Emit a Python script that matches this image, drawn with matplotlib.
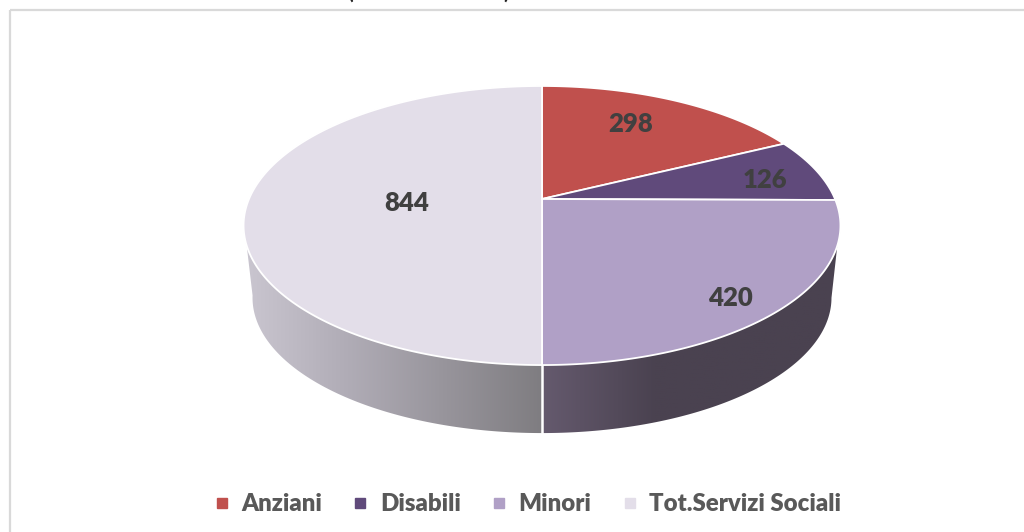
import numpy as np
import matplotlib
matplotlib.use("Agg")
import matplotlib.pyplot as plt
from matplotlib.colors import to_rgb
from matplotlib.lines import Line2D
from matplotlib.patches import Polygon

categories = ["Anziani", "Disabili", "Minori", "Tot.Servizi Sociali"]
values = [298, 126, 420, 844]
colors = ["#c0504d", "#604a7b", "#b0a0c6", "#e3dee9"]
label_pos = [(631, 124), (765, 180), (730, 298), (407, 203)]

plt.rcParams["font.family"] = ["Lato", "DejaVu Sans"]

# pie geometry in pixels, k is the perspective of the tilted disc
cx, cy = 542, 199
rx, ry = 293, 134.5
k = 0.19
depth = 73
shrink = 0.97


def project(theta, scale=1.0, drop=0.0):
    # theta in degrees, clockwise from 12 o'clock
    u = np.sin(np.radians(theta))
    v = np.cos(np.radians(theta))
    x = cx + scale * rx * u / (1 + k * v)
    y = cy + drop - scale * ry * v / (1 + k * v)
    return x, y


def wall_gradient(stops):
    xs = np.linspace(0, 1, 256)
    pos = [p for p, _ in stops]
    rgb = [to_rgb(c) for _, c in stops]
    channels = [np.interp(xs, pos, [c[i] for c in rgb]) for i in range(3)]
    return np.stack(channels, axis=1)[None, :, :]


fig = plt.figure(figsize=(10.24, 5.32), dpi=100)
ax = fig.add_axes([0, 0, 1, 1])
ax.set_xlim(0, 1024)
ax.set_ylim(532, 0)
ax.axis("off")

# frame of the chart, open to the right and bottom
ax.plot([10, 1024], [10, 10], color="#d9d9d9", lw=1.6, solid_capstyle="butt")
ax.plot([10, 10], [10, 532], color="#d9d9d9", lw=1.6, solid_capstyle="butt")

# bits of the cut off title
ax.text(350, 3, "(", fontsize=15, fontweight="bold", color="#222222", ha="center", va="bottom")
ax.text(506, 3, ")", fontsize=15, fontweight="bold", color="#222222", ha="center", va="bottom")

# side walls, left half and right half
walls = [
    (np.linspace(180, 251, 120), np.linspace(260, 180, 120), 244, 542,
     [(0, "#cac6d0"), (0.35, "#b0acb6"), (1, "#7f7d81")]),
    (np.linspace(109, 180, 120), np.linspace(180, 101, 120), 542, 840,
     [(0, "#655a6e"), (0.38, "#4a4250"), (1, "#4a4250")]),
]
for top_t, bot_t, x0, x1, stops in walls:
    tx, ty = project(top_t)
    bx, by = project(bot_t, shrink, depth)
    pts = np.column_stack([np.r_[tx, bx], np.r_[ty, by]])
    im = ax.imshow(wall_gradient(stops), extent=[x0, x1, 440, 200],
                   aspect="auto", zorder=1, interpolation="bilinear")
    clip = Polygon(pts, closed=True, transform=ax.transData, fc="none", ec="none")
    ax.add_patch(clip)
    im.set_clip_path(clip)
ax.set_xlim(0, 1024)
ax.set_ylim(532, 0)

# white seam between the two walls
sx, sy = project(180.0)
ex, ey = project(180.0, shrink, depth)
ax.plot([sx, ex], [sy, ey], color="white", lw=1.8, zorder=2)

# top face
edges = np.r_[0, np.cumsum(values)] / np.sum(values) * 360
for i, name in enumerate(categories):
    t = np.linspace(edges[i], edges[i + 1], 200)
    x, y = project(t)
    ax.fill(np.r_[cx, x], np.r_[cy, y], fc=colors[i], ec="white", lw=1.3,
            joinstyle="round", zorder=3)
    ax.text(label_pos[i][0], label_pos[i][1], str(values[i]), fontsize=18.5,
            fontweight=800, color="#404040", ha="center", va="center", zorder=4)

handles = [Line2D([], [], ls="none", marker="s", ms=6.5, mfc=c, mec=c) for c in colors]
ax.legend(handles, categories, loc="center", bbox_to_anchor=(528 / 1024, 1 - 504 / 532),
          ncol=4, frameon=False, handlelength=0.6, handletextpad=0.52, columnspacing=1.28,
          labelcolor="#595959", prop={"family": "Lato", "weight": 800, "size": 17.3})

fig.savefig("out.png", dpi=100)
